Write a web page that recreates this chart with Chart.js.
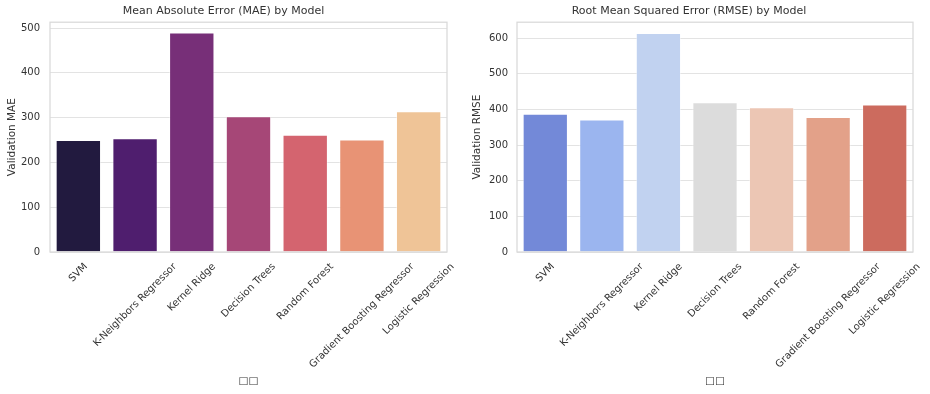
<!DOCTYPE html>
<html>
<head>
<meta charset="utf-8">
<script src="https://cdn.jsdelivr.net/npm/chart.js@4"></script>
<style>
  body { margin: 0; background: #fff; }
  .box { position: absolute; top: 0; width: 465px; height: 394px; }
  #leftBox { left: 0; }
  #rightBox { left: 465px; }
</style>
</head>
<body>
<div class="box" id="leftBox"><canvas id="chartMAE" width="465" height="394"></canvas></div>
<div class="box" id="rightBox"><canvas id="chartRMSE" width="465" height="394"></canvas></div>
<script>
const models = ["SVM", "K-Neighbors Regressor", "Kernel Ridge", "Decision Trees", "Random Forest", "Gradient Boosting Regressor", "Logistic Regression"];
const maeValues = [250, 254, 490, 303, 262, 251, 314];
const rmseValues = [388, 372, 615, 420, 406, 379, 414];
const maeColors = ["#221a3f", "#4f1e6e", "#772f78", "#a64777", "#d4646f", "#e89375", "#efc497"];
const rmseColors = ["#7389d8", "#9bb5ef", "#c1d2f0", "#dcdcdc", "#ecc6b4", "#e3a189", "#cc6b5e"];
const xTitle = "□□";

const FONT = "'DejaVu Sans', sans-serif";
const TEXT = "#333333";

// frame around the plot + centered, rotated x labels (matplotlib style)
const framePlugin = {
    id: "frame",
    afterDraw(chart) {
        const ctx = chart.ctx;
        const a = chart.chartArea;
        ctx.save();
        ctx.strokeStyle = "#d9d9d9";
        ctx.lineWidth = 1.25;
        ctx.strokeRect(a.left, a.top, a.right - a.left, a.bottom - a.top);

        const xs = chart.scales.x;
        ctx.font = "10px " + FONT;
        ctx.fillStyle = TEXT;
        ctx.textAlign = "center";
        ctx.textBaseline = "middle";
        const h = 11.6;
        for (let i = 0; i < models.length; i++) {
            const w = ctx.measureText(models[i]).width;
            const side = (w + h) / Math.SQRT2;
            const cx = xs.getPixelForTick(i);
            const cy = a.bottom + 9 + side / 2;
            ctx.save();
            ctx.translate(cx, cy);
            ctx.rotate(-Math.PI / 4);
            ctx.fillText(models[i], 0, 0);
            ctx.restore();
        }
        ctx.restore();
    }
};

function makeChart(id, title, yTitle, values, colors, yMax, plotLeft, padRight, tickPad) {
    return new Chart(document.getElementById(id), {
        type: "bar",
        data: {
            labels: models,
            datasets: [{
                data: values,
                backgroundColor: colors,
                borderColor: "rgba(255,255,255,0.45)",
                borderWidth: 1,
                barPercentage: 0.8,
                categoryPercentage: 1.0
            }]
        },
        options: {
            responsive: false,
            animation: false,
            layout: { padding: { left: 0, right: padRight, top: 0, bottom: 0 } },
            plugins: {
                legend: { display: false },
                tooltip: { enabled: false },
                title: {
                    display: true,
                    text: title,
                    color: TEXT,
                    font: { family: FONT, size: 11, weight: "normal" },
                    padding: { top: 5, bottom: 4 }
                }
            },
            scales: {
                x: {
                    grid: { display: false },
                    border: { display: false },
                    ticks: { display: false },
                    title: {
                        display: true,
                        text: xTitle,
                        color: TEXT,
                        font: { family: FONT, size: 10.5 },
                        padding: { top: 0, bottom: 6 }
                    },
                    afterFit: s => { s.height = 142; }
                },
                y: {
                    min: 0,
                    max: yMax,
                    grid: { color: "#e3e3e3", lineWidth: 1, drawTicks: false },
                    border: { display: false },
                    ticks: {
                        stepSize: 100,
                        includeBounds: false,
                        padding: tickPad,
                        color: TEXT,
                        font: { family: FONT, size: 10 }
                    },
                    afterBuildTicks: s => { s.ticks = s.ticks.filter(t => t.value % 100 === 0); },
                    title: {
                        display: true,
                        text: yTitle,
                        color: TEXT,
                        font: { family: FONT, size: 10.5 },
                        padding: { top: 6, bottom: 0 }
                    },
                    afterFit: s => { s.width = plotLeft; }
                }
            }
        },
        plugins: [framePlugin]
    });
}

makeChart("chartMAE", "Mean Absolute Error (MAE) by Model", "Validation MAE", maeValues, maeColors, 513, 50, 18, 10);
makeChart("chartRMSE", "Root Mean Squared Error (RMSE) by Model", "Validation RMSE", rmseValues, rmseColors, 645, 52, 17, 9);
</script>
</body>
</html>
